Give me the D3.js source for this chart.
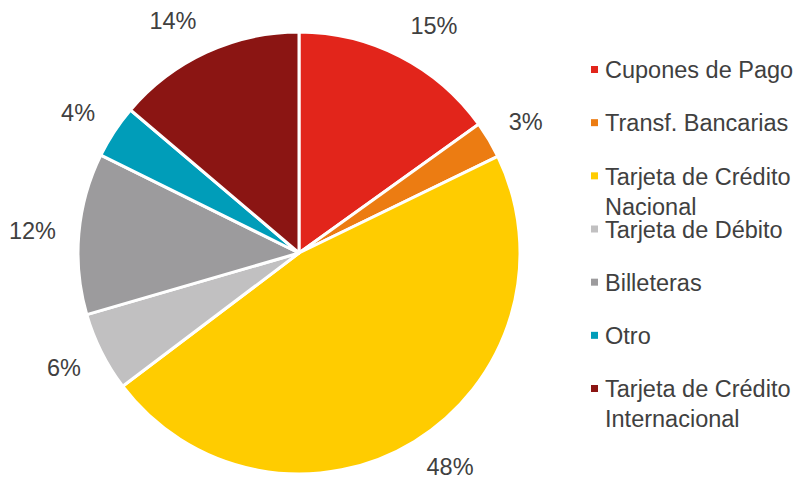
<!DOCTYPE html>
<html>
<head>
<meta charset="utf-8">
<script src="https://cdn.jsdelivr.net/npm/d3@7"></script>
<style>
    body { margin: 0; background: #fff; }
    text { font-family: "Liberation Sans", Arial, sans-serif; fill: #404040; }
</style>
</head>
<body>
<div id="chart"></div>
<script>
// slices, clockwise from 12 o'clock
const categories = ['Cupones de Pago', 'Transf. Bancarias', 'Tarjeta de Crédito Nacional',
    'Tarjeta de Débito', 'Billeteras', 'Otro', 'Tarjeta de Crédito Internacional'];
const values = [15.1, 2.7, 46.9, 5.8, 11.8, 3.9, 13.8];
const pctLabels = ['15%', '3%', '48%', '6%', '12%', '4%', '14%'];
const colors = ['#e2251b', '#ec7c12', '#ffcc00', '#c1c0c1', '#9c9b9d', '#009db9', '#8b1513'];
// legend text split over lines as in the original
const legendLines = [['Cupones de Pago'], ['Transf. Bancarias'], ['Tarjeta de Crédito', 'Nacional'],
    ['Tarjeta de Débito'], ['Billeteras'], ['Otro'], ['Tarjeta de Crédito', 'Internacional']];

const width = 801, height = 477;
const cx = 299, cy = 253, radius = 221;
const fontSize = '23.5px';

let svg = d3.select('#chart')
    .append('svg')
    .attr('width', width)
    .attr('height', height);

let pie = d3.pie().sort(null).value(d => d)(values);
let arc = d3.arc().innerRadius(0).outerRadius(radius);
let anchorArc = d3.arc().innerRadius(244).outerRadius(244);

let g = svg.append('g').attr('transform', `translate(${cx},${cy})`);

g.selectAll('path')
    .data(pie)
    .join('path')
    .attr('d', arc)
    .attr('fill', (d, i) => colors[i])
    .attr('stroke', '#fff')
    .attr('stroke-width', 3)
    .attr('stroke-linejoin', 'round');

// outside labels, box pushed away from the anchor point (like office charts do)
g.selectAll('text.pct')
    .data(pie)
    .join('text')
    .attr('class', 'pct')
    .attr('text-anchor', 'middle')
    .attr('dy', '0.35em')
    .style('font-size', fontSize)
    .text((d, i) => pctLabels[i])
    .attr('transform', function(d) {
        let a = (d.startAngle + d.endAngle) / 2;
        let [x, y] = anchorArc.centroid(d);
        let w = this.getComputedTextLength();
        x += Math.sign(Math.sin(a)) * w / 2;
        y += -Math.cos(a) * 11.6;
        y = Math.min(y, height - 10 - cy);
        return `translate(${x},${y})`;
    });

// legend
let yPos = d3.scalePoint().domain(d3.range(categories.length)).range([70, 389]);

let legend = svg.append('g').attr('transform', 'translate(591,0)');
let item = legend.selectAll('g')
    .data(categories)
    .join('g')
    .attr('transform', (d, i) => `translate(0,${yPos(i)})`);

item.append('rect')
    .attr('x', 0)
    .attr('y', -4)
    .attr('width', 7)
    .attr('height', 7)
    .attr('fill', (d, i) => colors[i]);

item.append('text')
    .attr('x', 14)
    .style('font-size', fontSize)
    .selectAll('tspan')
    .data((d, i) => legendLines[i])
    .join('tspan')
    .attr('x', 14)
    .attr('y', (d, j) => j * 30)
    .attr('dy', '0.35em')
    .text(d => d);
</script>
</body>
</html>
